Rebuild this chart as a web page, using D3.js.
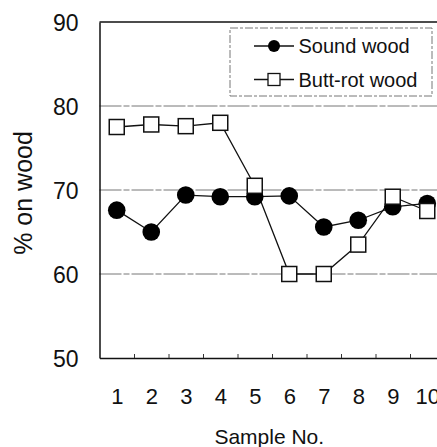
<!DOCTYPE html>
<html>
<head>
<meta charset="utf-8">
<script src="https://cdn.jsdelivr.net/npm/d3@7"></script>
<style>
  html, body { margin: 0; padding: 0; background: #fff; }
  svg { display: block; }
  text { font-family: "Liberation Sans", Arial, Helvetica, sans-serif; fill: #111; }
</style>
</head>
<body>
<svg id="chart" width="437" height="447"></svg>
<script>
const samples = [1, 2, 3, 4, 5, 6, 7, 8, 9, 10];
const soundWood = [67.6, 65.0, 69.4, 69.2, 69.2, 69.3, 65.6, 66.4, 68.0, 68.4];
const buttRotWood = [77.5, 77.8, 77.6, 78.0, 70.5, 60.0, 60.0, 63.5, 69.2, 67.5];
const yTicks = [50, 60, 70, 80, 90];
const gridValues = [60, 70, 80];
const seriesNames = ["Sound wood", "Butt-rot wood"];

const svg = d3.select("#chart");
const x = d3.scaleLinear().domain([0.5, 10.5]).range([99.5, 444.5]);
const y = d3.scaleLinear().domain([50, 90]).range([358, 22]);

// gridlines
svg.append("g").selectAll("line").data(gridValues).join("line")
  .attr("x1", x(0.5)).attr("x2", x(10.5))
  .attr("y1", d => y(d)).attr("y2", d => y(d))
  .attr("stroke", "#777").attr("stroke-width", 1)
  .attr("stroke-dasharray", "22,2,6,2");

// top border
svg.append("line")
  .attr("x1", x(0.5)).attr("x2", x(10.5))
  .attr("y1", y(90)).attr("y2", y(90))
  .attr("stroke", "#111").attr("stroke-width", 1.5);

// y axis
const yAxis = svg.append("g").attr("transform", `translate(${x(0.5)},0)`)
  .call(d3.axisLeft(y).tickValues(yTicks).tickSize(0).tickPadding(21).tickFormat(d3.format("d")));
yAxis.select(".domain").attr("stroke", "#111").attr("stroke-width", 1.5);
yAxis.selectAll("text").style("font-size", "23px").attr("dy", "0.36em");

// x axis labels
const xAxis = svg.append("g").attr("transform", `translate(0,${y(50)})`)
  .call(d3.axisBottom(x).tickValues(samples).tickSize(0).tickPadding(30).tickFormat(d3.format("d")));
xAxis.select(".domain").attr("stroke", "#111").attr("stroke-width", 1.5);
xAxis.selectAll("text").style("font-size", "22px");

// minor ticks between samples
const minor = svg.append("g").attr("transform", `translate(0,${y(50)})`)
  .call(d3.axisBottom(x).tickValues(samples.slice(0, 9).map(d => d + 0.5)).tickSizeInner(-4).tickSizeOuter(0).tickFormat(""));
minor.select(".domain").remove();
minor.selectAll("line").attr("stroke", "#333").attr("stroke-width", 1);

// axis titles
svg.append("text").attr("x", (x(0.5) + 437) / 2 + 1).attr("y", 444)
  .attr("text-anchor", "middle").style("font-size", "21px").text("Sample No.");
svg.append("text").attr("transform", "translate(32,193) rotate(-90)")
  .attr("text-anchor", "middle").style("font-size", "25px").text("% on wood");

// lines
const line = d3.line().x((d, i) => x(samples[i])).y(d => y(d));
svg.append("path").datum(soundWood).attr("d", line)
  .attr("fill", "none").attr("stroke", "#111").attr("stroke-width", 1.3);
svg.append("path").datum(buttRotWood).attr("d", line)
  .attr("fill", "none").attr("stroke", "#111").attr("stroke-width", 1.3);

// markers: circles then squares on top
svg.append("g").selectAll("circle").data(soundWood).join("circle")
  .attr("cx", (d, i) => x(samples[i])).attr("cy", d => y(d)).attr("r", 8.8)
  .attr("fill", "#000");
const sq = 15;
svg.append("g").selectAll("rect").data(buttRotWood).join("rect")
  .attr("x", (d, i) => x(samples[i]) - sq / 2).attr("y", d => y(d) - sq / 2)
  .attr("width", sq).attr("height", sq)
  .attr("fill", "#fff").attr("stroke", "#111").attr("stroke-width", 1.5);

// legend
const lg = svg.append("g");
lg.append("rect").attr("x", 230).attr("y", 28).attr("width", 202).attr("height", 68)
  .attr("fill", "#fff").attr("stroke", "#777").attr("stroke-width", 1)
  .attr("stroke-dasharray", "8,2,3,2");
const rows = [46, 79.5];
seriesNames.forEach((name, i) => {
  const cy = rows[i];
  lg.append("line").attr("x1", 254).attr("x2", 294).attr("y1", cy).attr("y2", cy)
    .attr("stroke", "#111").attr("stroke-width", 1.3);
  if (i === 0) {
    lg.append("circle").attr("cx", 274).attr("cy", cy).attr("r", 6).attr("fill", "#000");
  } else {
    lg.append("rect").attr("x", 268).attr("y", cy - 6).attr("width", 12).attr("height", 12)
      .attr("fill", "#fff").attr("stroke", "#111").attr("stroke-width", 1.3);
  }
  lg.append("text").attr("x", 298.5).attr("y", cy + 7.3).style("font-size", "20px").text(name);
});
</script>
</body>
</html>
